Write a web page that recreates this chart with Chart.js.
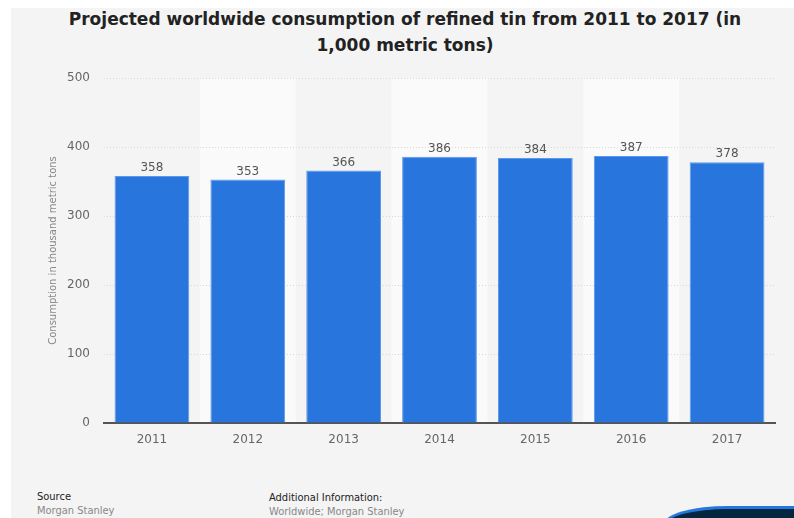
<!DOCTYPE html>
<html>
<head>
<meta charset="utf-8">
<script src="https://cdn.jsdelivr.net/npm/chart.js@4/dist/chart.umd.min.js"></script>
<style>
  html, body { margin: 0; padding: 0; background: #fff; }
  body { width: 794px; height: 518px; position: relative; overflow: hidden; font-family: "DejaVu Sans", sans-serif; }
  #panel { position: absolute; left: 11px; top: 8px; width: 783px; height: 510px; background: #f4f4f4; }
  #title { position: absolute; left: 8px; top: 0; width: 794px; text-align: center; font-weight: bold; font-size: 17px; line-height: 26px; color: #222; padding-top: 6px; }
  #wrap { position: absolute; left: 11px; top: 9px; width: 783px; height: 470px; }
  .foot { position: absolute; font-family: "DejaVu Sans Condensed", "DejaVu Sans", sans-serif; font-size: 11px; line-height: 14px; }
  .foot .h { color: #222; }
  .foot .s { color: #888; }
  #badge { position: absolute; left: 664px; top: 506px; width: 170px; height: 40px; background: #04263f; border-top: 3px solid #2876dd; border-left: 3px solid #2876dd; border-top-left-radius: 64px 18px; }
</style>
</head>
<body>
<div id="panel"></div>
<div id="title">Projected worldwide consumption of refined tin from 2011 to 2017 (in<br>1,000 metric tons)</div>
<div id="wrap"><canvas id="chart"></canvas></div>
<div class="foot" style="left:37px; top:490px;"><div class="h">Source</div><div class="s">Morgan Stanley</div></div>
<div class="foot" style="left:269px; top:491px;"><div class="h">Additional Information:</div><div class="s">Worldwide; Morgan Stanley</div></div>
<div id="badge"></div>
<script>
// data
const years = ['2011', '2012', '2013', '2014', '2015', '2016', '2017'];
const consumption = [358, 353, 366, 386, 384, 387, 378];
const yTicks = [0, 100, 200, 300, 400, 500];

const barBlue = '#2876dd';
const tickColor = '#666';

// alternating column bands behind the bars
const bandPlugin = {
  id: 'bands',
  beforeDraw(chart) {
    const { ctx, chartArea, scales } = chart;
    const step = scales.x.getPixelForValue(1) - scales.x.getPixelForValue(0);
    ctx.save();
    ctx.fillStyle = '#fafafa';
    years.forEach((y, i) => {
      if (i % 2 === 1) {
        const cx = scales.x.getPixelForValue(i);
        ctx.fillRect(cx - step / 2, chartArea.top, step, chartArea.bottom - chartArea.top);
      }
    });
    ctx.restore();
  }
};

// value labels over bars + y axis title
const labelPlugin = {
  id: 'valueLabels',
  afterDatasetsDraw(chart) {
    const { ctx, chartArea } = chart;
    const meta = chart.getDatasetMeta(0);
    ctx.save();
    ctx.fillStyle = '#555';
    ctx.font = '12px "DejaVu Sans"';
    ctx.textAlign = 'center';
    ctx.textBaseline = 'bottom';
    meta.data.forEach((bar, i) => {
      ctx.fillText(String(consumption[i]), bar.x, bar.y - 2);
    });
    ctx.translate(42, (chartArea.top + chartArea.bottom) / 2);
    ctx.rotate(-Math.PI / 2);
    ctx.fillStyle = '#888';
    ctx.font = '10px "DejaVu Sans"';
    ctx.textBaseline = 'middle';
    ctx.fillText('Consumption in thousand metric tons', 0, 0);
    ctx.restore();
  }
};

new Chart(document.getElementById('chart'), {
  type: 'bar',
  data: {
    labels: years,
    datasets: [{
      data: consumption,
      backgroundColor: barBlue,
      borderColor: '#5b9aeb',
      borderWidth: { top: 1, left: 1, right: 1, bottom: 0 },
      categoryPercentage: 0.78,
      barPercentage: 1
    }]
  },
  options: {
    responsive: true,
    maintainAspectRatio: false,
    animation: false,
    layout: { padding: { top: 69, right: 19, left: 0, bottom: 0 } },
    plugins: { legend: { display: false }, tooltip: { enabled: false } },
    scales: {
      x: {
        grid: { display: false, drawTicks: false },
        border: { display: true, color: '#555', width: 2 },
        ticks: { color: tickColor, font: { family: 'DejaVu Sans', size: 12 }, padding: 10 },
        afterFit: s => { s.height = 56; }
      },
      y: {
        min: 0,
        max: 500,
        afterBuildTicks: s => { s.ticks = yTicks.map(v => ({ value: v })); },
        grid: { color: '#d8d8d8', drawTicks: false },
        border: { display: false, dash: [1, 2] },
        ticks: { color: tickColor, font: { family: 'DejaVu Sans', size: 12 }, padding: 14 },
        afterFit: s => { s.width = 93; }
      }
    }
  },
  plugins: [bandPlugin, labelPlugin]
});
</script>
</body>
</html>
